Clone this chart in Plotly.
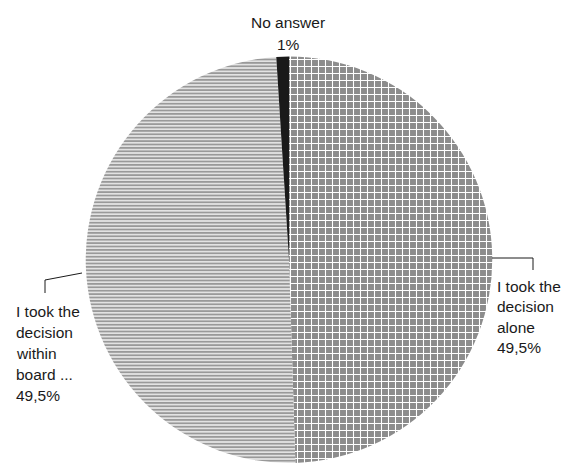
import plotly.graph_objects as go

# Data
categories = ["I took the decision alone", "I took the decision within board ...", "No answer"]
values = [49.5, 49.5, 1]
label_lines = [["I took the", "decision", "alone"],
               ["I took the", "decision", "within", "board ..."],
               ["No answer"]]

W, H = 561, 463

def pct(v):
    return f"{v:g}".replace(".", ",") + "%"

def px(x):
    return x / W

def py(y):
    return 1 - y / H

fig = go.Figure()
fig.add_trace(go.Pie(
    labels=categories,
    values=values,
    sort=False,
    direction="clockwise",
    rotation=0,
    textinfo="none",
    hoverinfo="label+percent",
    showlegend=False,
    marker=dict(
        colors=["#8e8e8e", "#e4e4e4", "#1a1a1a"],
        line=dict(width=0),
        pattern=dict(
            shape=["+", "-", ""],
            fgcolor=["#ffffff", "#999999", "#1a1a1a"],
            bgcolor=["#8c8c8c", "#e2e2e2", "#1a1a1a"],
            size=[7, 3.4, 6],
            solidity=[0.28, 0.5, 0.5],
            fillmode="replace",
        ),
    ),
    domain=dict(x=[px(289 - 215), px(289 + 215)], y=[0, 0.878]),
))

FS = 15.5
font = dict(family="Liberation Sans, Arial, sans-serif", size=FS, color="#1a1a1a")

# Label layout: (index, x, first baseline, line spacing, xanchor)
placements = [
    (0, 495, 291, 20.5, "left"),
    (1, 14, 316, 21, "left"),
    (2, 288, 27, 22, "center"),
]
for i, x, base, step, xa in placements:
    lines = label_lines[i] + [pct(values[i])]
    for k, line in enumerate(lines):
        yb = base + k * step
        fig.add_annotation(
            x=px(x), y=py(yb - 5), xref="paper", yref="paper",
            xanchor=xa, yanchor="middle", align=xa if xa != "center" else "center",
            text=line, showarrow=False, font=font,
        )

# Leader lines
line_style = dict(color="#1a1a1a", width=1)
for pts in [[(492, 258), (533, 258), (533, 270)],
            [(82, 273), (45, 280), (45, 293)]]:
    path = "M " + " L ".join(f"{px(a)},{py(b)}" for a, b in pts)
    fig.add_shape(type="path", path=path, xref="paper", yref="paper", line=line_style)

fig.update_layout(
    width=W, height=H,
    margin=dict(l=0, r=0, t=0, b=0),
    paper_bgcolor="white",
    plot_bgcolor="white",
)

fig.write_html("out.html")
